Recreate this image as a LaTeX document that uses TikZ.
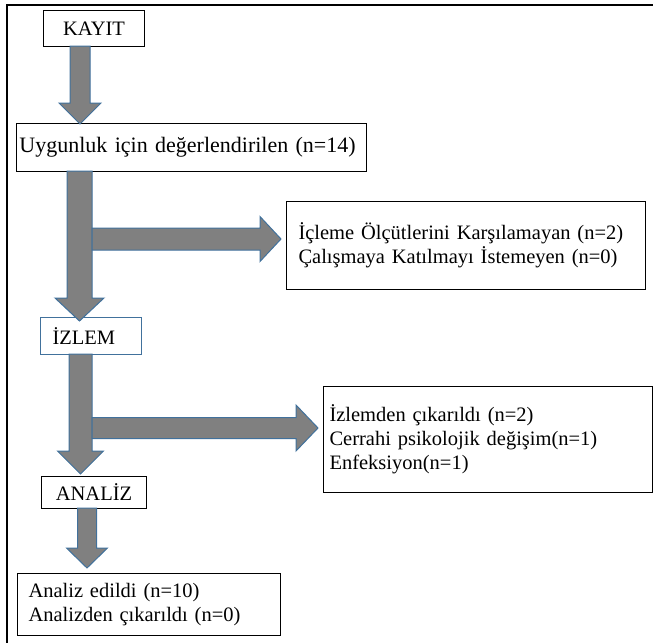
\documentclass[tikz,border=0pt]{standalone}
\usepackage{fontspec}
\setmainfont{Liberation Serif}
\definecolor{arrgray}{RGB}{128,128,128}
\definecolor{arrblue}{RGB}{65,113,156}
\newcommand{\blockdown}[6]{%
  \draw[blk] (#1-#4,#2) -- (#1-#4,#3-#6) -- (#1-#5,#3-#6) -- (#1,#3) -- (#1+#5,#3-#6) -- (#1+#4,#3-#6) -- (#1+#4,#2) -- cycle;}
\newcommand{\blockright}[6]{%
  \draw[blk] (#2,#1-#4) -- (#3-#6,#1-#4) -- (#3-#6,#1-#5) -- (#3,#1) -- (#3-#6,#1+#5) -- (#3-#6,#1+#4) -- (#2,#1+#4) -- cycle;}
\begin{document}
\begin{tikzpicture}[x=1pt,y=-1pt,
  box/.style={draw=black, line width=1pt, inner ysep=0pt, anchor=north west, align=left,
    font=\fontsize{20.5}{24}\selectfont},
  blk/.style={fill=arrgray, draw=arrblue, line width=1pt, line join=miter}]
\useasboundingbox (0,0) rectangle (653,643);
\draw[line width=2pt] (653,5) -- (7,5) -- (7,643);

\node[box, inner xsep=0pt, minimum width=101pt, minimum height=36pt, align=center] (kayit) at (43,10) {KAYIT};
\node[box, inner xsep=3pt, text width=344pt, minimum height=48pt, font=\fontsize{22}{26}\selectfont] (uyg) at (16,123) {Uygunluk için değerlendirilen (n=14)};
\node[box, inner xsep=12pt, text width=335pt, minimum height=88pt] (excl) at (286,201) {İçleme Ölçütlerini Karşılamayan (n=2)\\Çalışmaya Katılmayı İstemeyen (n=0)};
\node[box, draw=arrblue, inner xsep=12pt, text width=77pt, minimum height=37pt] (izlem) at (40,317) {İZLEM};
\node[box, inner xsep=6pt, text width=317pt, minimum height=106pt] (cik) at (323,386) {İzlemden çıkarıldı (n=2)\\Cerrahi psikolojik değişim(n=1)\\Enfeksiyon(n=1)};
\node[box, inner xsep=0pt, minimum width=105pt, minimum height=32pt, align=center] (analiz) at (41,476) {ANALİZ};
\node[box, inner xsep=11pt, text width=241pt, minimum height=62pt] (son) at (17,573) {Analiz edildi (n=10)\\Analizden çıkarıldı (n=0)};

\blockdown{80}{46}{124}{10}{21}{21}
\blockdown{79.5}{171}{321}{12.5}{24.5}{23}
\blockright{239}{92}{281}{11}{22.5}{21}
\blockdown{80.5}{354}{474}{11.5}{23}{23}
\blockright{428}{92}{318}{10.5}{23}{22}
\blockdown{87}{508}{568}{9.5}{20.5}{20}
\end{tikzpicture}
\end{document}
